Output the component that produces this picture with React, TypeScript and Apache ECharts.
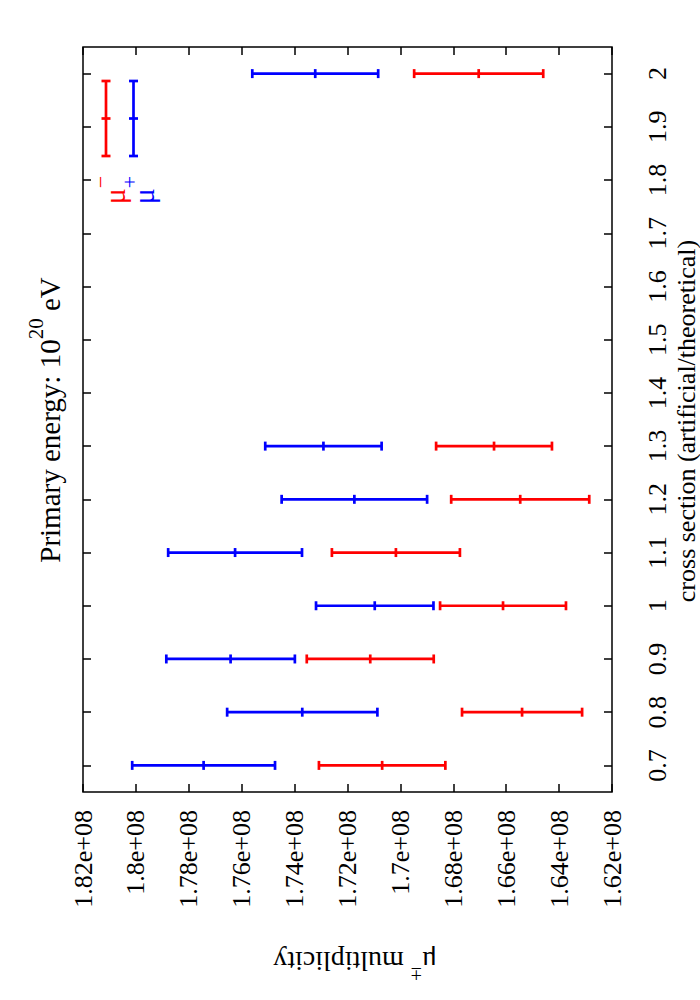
import React, { useEffect, useRef } from "react";
import * as echarts from "echarts";

// cross section values (category positions on the vertical axis)
const crossSection = [0.7, 0.8, 0.9, 1.0, 1.1, 1.2, 1.3, 2.0];
// mu+ multiplicity: mean and error
const muPlusMean = [1.7744e8, 1.7371e8, 1.7642e8, 1.7097e8, 1.7625e8, 1.7174e8, 1.7291e8, 1.7322e8];
const muPlusErr = [0.027e8, 0.0284e8, 0.0243e8, 0.0222e8, 0.0253e8, 0.0275e8, 0.022e8, 0.0238e8];
// mu- multiplicity: mean and error
const muMinusMean = [1.7069e8, 1.654e8, 1.7114e8, 1.6612e8, 1.7017e8, 1.6547e8, 1.6646e8, 1.6704e8];
const muMinusErr = [0.0239e8, 0.0227e8, 0.024e8, 0.0238e8, 0.0242e8, 0.0261e8, 0.0219e8, 0.0244e8];
// tick labels for cross section axis
const crossTicks = [0.7, 0.8, 0.9, 1.0, 1.1, 1.2, 1.3, 1.4, 1.5, 1.6, 1.7, 1.8, 1.9, 2.0];
const multMin = 1.62e8;
const multMax = 1.82e8;
const multStep = 0.02e8;

const FONT = "Liberation Serif";
const FS = 26;

function buildData(mean: number[], err: number[]) {
  return crossSection.map((c, i) => [mean[i] - err[i], mean[i], mean[i] + err[i], c]);
}

function errRender(color: string) {
  return (params: any, api: any) => {
    const lo = api.value(0);
    const m = api.value(1);
    const hi = api.value(2);
    const c = api.value(3);
    const pLo = api.coord([lo, c]);
    const pM = api.coord([m, c]);
    const pHi = api.coord([hi, c]);
    const h = 4.5;
    const style = { stroke: color, lineWidth: 2.7 };
    return {
      type: "group",
      children: [
        { type: "line", shape: { x1: pLo[0], y1: pLo[1], x2: pHi[0], y2: pHi[1] }, style },
        { type: "line", shape: { x1: pLo[0], y1: pLo[1] - h, x2: pLo[0], y2: pLo[1] + h }, style },
        { type: "line", shape: { x1: pHi[0], y1: pHi[1] - h, x2: pHi[0], y2: pHi[1] + h }, style },
        { type: "line", shape: { x1: pM[0], y1: pM[1] - h, x2: pM[0], y2: pM[1] + h }, style },
      ],
    };
  };
}

function legendSample(x: number, color: string) {
  const y1 = 81;
  const y2 = 156;
  const ym = 118.5;
  const h = 4.5;
  const style = { stroke: color, lineWidth: 2.7 };
  return {
    type: "group",
    children: [
      { type: "line", shape: { x1: x, y1, x2: x, y2 }, style },
      { type: "line", shape: { x1: x - h, y1, x2: x + h, y2: y1 }, style },
      { type: "line", shape: { x1: x - h, y1: y2, x2: x + h, y2 }, style },
      { type: "line", shape: { x1: x - h, y1: ym, x2: x + h, y2: ym }, style },
    ],
  };
}

function richStyles(color: string, fs: number) {
  return {
    b: { fontFamily: FONT, fontSize: fs, lineHeight: fs + 10, verticalAlign: "bottom", fill: color, color },
    s: { fontFamily: FONT, fontSize: Math.round(fs * 0.72), lineHeight: 18, verticalAlign: "top", fill: color, color },
  };
}

export default function App() {
  const ref = useRef<HTMLDivElement>(null);
  useEffect(() => {
    if (!ref.current) return;
    const chart = echarts.init(ref.current, null, { renderer: "svg" });
    const tickStyle = { show: true, inside: true, length: 8, lineStyle: { color: "#000", width: 1.5 } };
    const option: any = {
      animation: false,
      backgroundColor: "#fff",
      textStyle: { fontFamily: FONT },
      grid: {
        left: 83,
        right: 88,
        top: 47,
        bottom: 208,
        show: true,
        borderColor: "#000",
        borderWidth: 1.5,
        containLabel: false,
      },
      xAxis: [
        {
          type: "value",
          position: "bottom",
          inverse: true,
          min: multMin,
          max: multMax,
          interval: multStep,
          axisLine: { show: false },
          axisTick: tickStyle,
          splitLine: { show: false },
          axisLabel: {
            rotate: 90,
            margin: 18,
            fontFamily: FONT,
            fontSize: FS,
            color: "#000",
            formatter: (v: number) => Math.round(v / 1e6) / 100 + "e+08",
          },
        },
        {
          type: "value",
          position: "top",
          inverse: true,
          min: multMin,
          max: multMax,
          interval: multStep,
          axisLine: { show: false },
          axisTick: tickStyle,
          splitLine: { show: false },
          axisLabel: { show: false },
        },
      ],
      yAxis: [
        {
          type: "value",
          position: "right",
          min: 0.65,
          max: 2.05,
          axisLine: { show: false },
          axisTick: { ...tickStyle, customValues: crossTicks },
          splitLine: { show: false },
          axisLabel: {
            customValues: crossTicks,
            rotate: 90,
            margin: 32,
            fontFamily: FONT,
            fontSize: FS,
            color: "#000",
            formatter: (v: number) => String(Math.round(v * 10) / 10),
          },
        },
        {
          type: "value",
          position: "left",
          min: 0.65,
          max: 2.05,
          axisLine: { show: false },
          axisTick: { ...tickStyle, customValues: crossTicks },
          splitLine: { show: false },
          axisLabel: { show: false },
        },
      ],
      series: [
        {
          name: "mu-",
          type: "custom",
          xAxisIndex: 0,
          yAxisIndex: 0,
          renderItem: errRender("#ff0000"),
          encode: { x: [0, 1, 2], y: 3 },
          data: buildData(muMinusMean, muMinusErr),
        },
        {
          name: "mu+",
          type: "custom",
          xAxisIndex: 0,
          yAxisIndex: 0,
          renderItem: errRender("#0000ff"),
          encode: { x: [0, 1, 2], y: 3 },
          data: buildData(muPlusMean, muPlusErr),
        },
      ],
      graphic: [
        legendSample(106, "#ff0000"),
        legendSample(133.5, "#0000ff"),
        {
          type: "text",
          x: 109,
          y: 190,
          rotation: Math.PI / 2,
          style: {
            text: "{b|μ}{s|−}",
            rich: richStyles("#ff0000", 30),
            align: "center",
            verticalAlign: "middle",
          },
        },
        {
          type: "text",
          x: 138,
          y: 190,
          rotation: Math.PI / 2,
          style: {
            text: "{b|μ}{s|+}",
            rich: richStyles("#0000ff", 30),
            align: "center",
            verticalAlign: "middle",
          },
        },
        {
          type: "text",
          x: 45,
          y: 420,
          rotation: Math.PI / 2,
          style: {
            text: "{b|Primary energy: 10}{s|20}{b| eV}",
            rich: richStyles("#000", 29),
            align: "center",
            verticalAlign: "middle",
          },
        },
        {
          type: "text",
          x: 686,
          y: 421,
          rotation: Math.PI / 2,
          style: {
            text: "cross section (artificial/theoretical)",
            fontFamily: FONT,
            fontSize: FS,
            fill: "#000",
            align: "center",
            verticalAlign: "middle",
          },
        },
        {
          type: "text",
          x: 355,
          y: 966,
          rotation: Math.PI,
          style: {
            text: "{b|μ}{s|±}{b| multiplicity}",
            rich: richStyles("#000", 28),
            align: "center",
            verticalAlign: "middle",
          },
        },
      ],
    };
    chart.setOption(option);
    return () => chart.dispose();
  }, []);
  return (
    <div
      ref={ref}
      style={{ position: "absolute", left: 0, top: 0, width: 700, height: 1000, background: "#fff" }}
    />
  );
}
